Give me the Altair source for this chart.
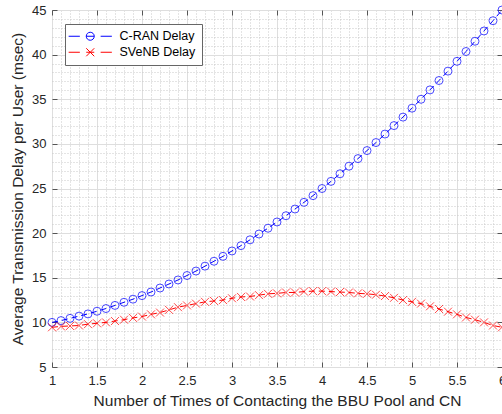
import altair as alt
import pandas as pd

# ---- data ----
x_vals = [1.0, 1.1, 1.2, 1.3, 1.4, 1.5, 1.6, 1.7, 1.8, 1.9,
          2.0, 2.1, 2.2, 2.3, 2.4, 2.5, 2.6, 2.7, 2.8, 2.9,
          3.0, 3.1, 3.2, 3.3, 3.4, 3.5, 3.6, 3.7, 3.8, 3.9,
          4.0, 4.1, 4.2, 4.3, 4.4, 4.5, 4.6, 4.7, 4.8, 4.9,
          5.0, 5.1, 5.2, 5.3, 5.4, 5.5, 5.6, 5.7, 5.8, 5.9, 6.0]

cran_delay = [10.0, 10.2, 10.45, 10.7, 10.95, 11.25, 11.55, 11.9, 12.25, 12.6,
              13.0, 13.4, 13.85, 14.3, 14.75, 15.25, 15.75, 16.3, 16.85, 17.4,
              18.0, 18.6, 19.25, 19.9, 20.55, 21.25, 21.95, 22.7, 23.45, 24.2,
              25.0, 25.8, 26.65, 27.5, 28.35, 29.25, 30.15, 31.1, 32.05, 33.0,
              34.0, 35.0, 36.05, 37.1, 38.15, 39.25, 40.35, 41.5, 42.65, 43.8, 45.0]

svenb_delay = [9.45, 9.55, 9.6, 9.65, 9.8, 9.9, 10.0, 10.15, 10.3, 10.5,
               10.65, 10.9, 11.1, 11.4, 11.7, 11.9, 12.1, 12.3, 12.4, 12.5,
               12.7, 12.85, 12.9, 13.05, 13.2, 13.25, 13.35, 13.35, 13.45, 13.5,
               13.5, 13.45, 13.4, 13.35, 13.25, 13.2, 13.1, 12.95, 12.75, 12.5,
               12.3, 12.1, 11.8, 11.5, 11.2, 10.9, 10.55, 10.3, 10.0, 9.65, 9.45]

series_names = ["C-RAN Delay", "SVeNB Delay"]
series_colors = ["#0000ff", "#ff0000"]

x_ticks = [1, 1.5, 2, 2.5, 3, 3.5, 4, 4.5, 5, 5.5, 6]
y_ticks = [5, 10, 15, 20, 25, 30, 35, 40, 45]

x_title = "Number of Times of Contacting the BBU Pool and CN"
y_title = "Average Transmission Delay per User (msec)"

# ---- table ----
df = pd.DataFrame({
    "x": x_vals + x_vals,
    "y": cran_delay + svenb_delay,
    "series": [series_names[0]] * len(x_vals) + [series_names[1]] * len(x_vals),
})

x_minor = [round(1 + 0.1 * i, 1) for i in range(51) if i % 5 != 0]
y_minor = [v for v in range(5, 46) if v % 5 != 0]

FONT = "Liberation Sans"
TXT = "#262626"
FRAME = "#555555"

x_scale = alt.Scale(domain=[1, 6], nice=False, zero=False)
y_scale = alt.Scale(domain=[5, 45], nice=False, zero=False)
color_scale = alt.Scale(domain=series_names, range=series_colors)

# marker and legend symbol paths (unit square [-1,1])
x_marker = "M-1,-1L1,1M-1,1L1,-1"
legend_paths = [
    "M-5.4,0H-2.6M-1,0H1M2.6,0H5.4M-1,0A1,1,0,1,1,1,0A1,1,0,1,1,-1,0",
    "M-5.4,0H-2.6M-1,0H1M2.6,0H5.4M-1,-1L1,1M-1,1L1,-1",
]

base = alt.Chart(df)

# layer 0: invisible layer carrying the legend + inward ticks top/right
ax_x_top = alt.Axis(orient="top", offset=-5, values=x_ticks, grid=False, labels=False,
                    ticks=True, tickSize=5, tickColor=FRAME, domain=False, title=None)
ax_y_right = alt.Axis(orient="right", offset=-5, values=y_ticks, grid=False, labels=False,
                      ticks=True, tickSize=5, tickColor=FRAME, domain=False, title=None)
leg = alt.Legend(title=None, orient="none", legendX=13, legendY=14,
                 symbolSize=64, symbolStrokeWidth=1, symbolOpacity=1,
                 symbolOffset=13, labelOffset=23,
                 labelFont=FONT, labelFontSize=12.5, labelColor="#000000",
                 strokeColor="#666666", fillColor="#ffffff", padding=6, rowPadding=3)
legend_layer = base.mark_point(opacity=0, filled=False, size=64).encode(
    x=alt.X("x:Q", scale=x_scale, axis=ax_x_top),
    y=alt.Y("y:Q", scale=y_scale, axis=ax_y_right),
    color=alt.Color("series:N", scale=color_scale, legend=leg),
    shape=alt.Shape("series:N", scale=alt.Scale(domain=series_names, range=legend_paths),
                    legend=leg),
)

# layer 1: dashed lines + labelled axes + major grid
ax_x_main = alt.Axis(values=x_ticks, format="~g", grid=True, gridColor="#dedede",
                     ticks=False, domain=False, labelFont=FONT, labelFontSize=13,
                     labelColor=TXT, labelPadding=7, labelFlush=False, labelOverlap=False,
                     title=x_title, titleFont=FONT, titleFontSize=15.5, titleFontWeight="normal",
                     titleColor=TXT, titlePadding=6)
ax_y_main = alt.Axis(values=y_ticks, format="d", grid=True, gridColor="#dedede",
                     ticks=False, domain=False, labelFont=FONT, labelFontSize=13,
                     labelColor=TXT, labelPadding=6, labelOverlap=False,
                     title=y_title, titleFont=FONT, titleFontSize=15.5, titleFontWeight="normal",
                     titleColor=TXT, titlePadding=6)
lines = base.mark_line(strokeDash=[6, 4], strokeWidth=1).encode(
    x=alt.X("x:Q", scale=x_scale, axis=ax_x_main),
    y=alt.Y("y:Q", scale=y_scale, axis=ax_y_main),
    color=alt.Color("series:N", scale=color_scale, legend=None),
    detail="series:N",
)

# layer 2: C-RAN circles + minor grid
ax_x_minor = alt.Axis(values=x_minor, grid=True, gridColor="#c9c9c9", gridDash=[1, 2],
                      labels=False, ticks=False, domain=False, title=None)
ax_y_minor = alt.Axis(values=y_minor, grid=True, gridColor="#c9c9c9", gridDash=[1, 2],
                      labels=False, ticks=False, domain=False, title=None)
circles = base.transform_filter(alt.datum.series == series_names[0]).mark_point(
    shape="circle", filled=False, size=64, strokeWidth=1
).encode(
    x=alt.X("x:Q", scale=x_scale, axis=ax_x_minor),
    y=alt.Y("y:Q", scale=y_scale, axis=ax_y_minor),
    color=alt.Color("series:N", scale=color_scale, legend=None),
)

# layer 3: SVeNB crosses + inward ticks bottom/left
ax_x_bot = alt.Axis(orient="bottom", offset=-5, values=x_ticks, grid=False, labels=False,
                    ticks=True, tickSize=5, tickColor=FRAME, domain=False, title=None)
ax_y_left = alt.Axis(orient="left", offset=-5, values=y_ticks, grid=False, labels=False,
                     ticks=True, tickSize=5, tickColor=FRAME, domain=False, title=None)
crosses = base.transform_filter(alt.datum.series == series_names[1]).mark_point(
    shape=x_marker, filled=False, size=64, strokeWidth=1
).encode(
    x=alt.X("x:Q", scale=x_scale, axis=ax_x_bot),
    y=alt.Y("y:Q", scale=y_scale, axis=ax_y_left),
    color=alt.Color("series:N", scale=color_scale, legend=None),
)

chart = alt.layer(legend_layer, lines, circles, crosses).resolve_axis(
    x="independent", y="independent"
).properties(
    width=450, height=357,
    autosize=alt.AutoSizeParams(type="none"),
    padding={"left": 52, "top": 10, "right": 0, "bottom": 47},
    background="#ffffff",
).configure_view(stroke=FRAME, strokeWidth=1)

chart.save("out.html", embed_options={"renderer": "svg", "actions": False})
